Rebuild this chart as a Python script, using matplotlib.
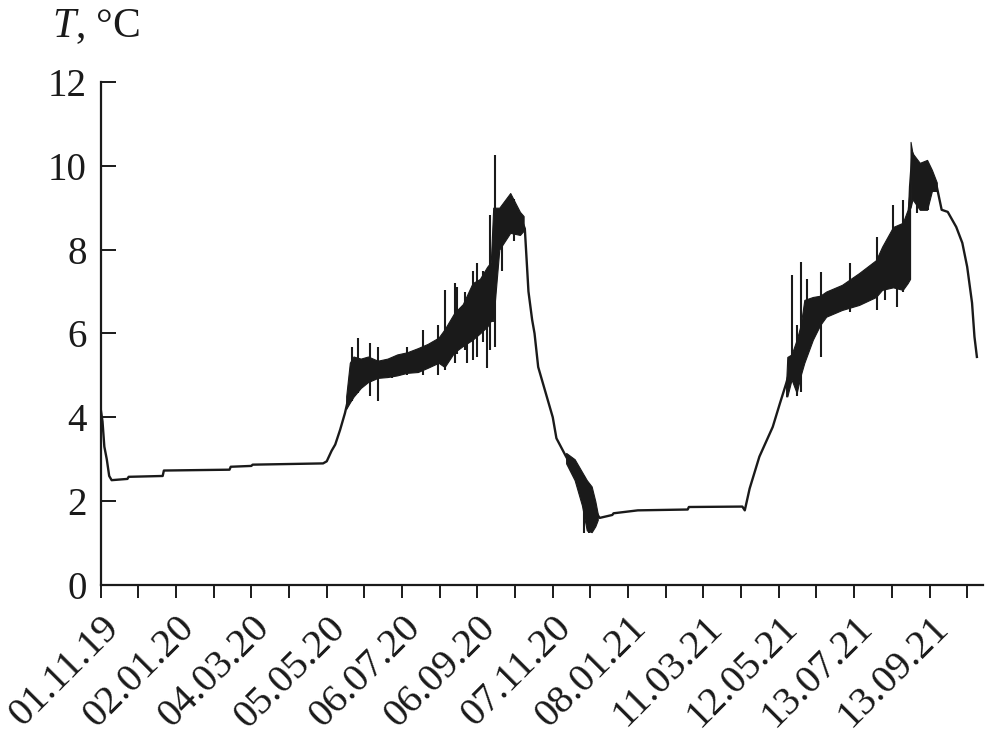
import matplotlib
matplotlib.use("Agg")
import matplotlib.pyplot as plt

plt.rcParams["font.family"] = ["Liberation Serif", "DejaVu Serif"]
plt.rcParams["mathtext.fontset"] = "custom"
plt.rcParams["mathtext.it"] = "Liberation Serif:italic"
plt.rcParams["mathtext.rm"] = "Liberation Serif"

# Days since 01.11.19 and temperature (°C), smooth part of the record
line_days = [0, 1.5, 3, 5, 7, 9, 22, 23, 51, 52, 106, 107, 124, 125, 183, 186,
             190, 193, 197, 201, 205, 211, 220, 228, 248, 261, 275, 283, 291,
             306, 318, 322, 324, 328, 337, 345, 349, 350.6, 352, 355, 357, 360,
             365, 372, 375, 383, 390, 400, 406, 410.6, 421, 422, 442, 483, 484,
             528, 530, 534, 542, 553, 559, 564, 568, 573, 579, 586, 592, 597,
             610, 624, 638, 643, 652, 660, 664, 666, 668, 674, 680, 684, 688,
             692, 697, 704, 709, 713, 717, 719, 721]
line_temp = [4.2, 3.9, 3.3, 3.0, 2.6, 2.5, 2.53, 2.58, 2.6, 2.73, 2.75, 2.82,
             2.84, 2.87, 2.9, 2.95, 3.2, 3.35, 3.7, 4.1, 4.6, 4.9, 5.15, 5.2,
             5.3, 5.4, 5.55, 5.65, 5.95, 6.4, 6.8, 7.0, 8.5, 8.8, 9.0, 8.8, 8.5,
             7.7, 7.0, 6.33, 6.0, 5.2, 4.7, 4.0, 3.5, 3.06, 2.7, 2.0, 1.8, 1.6,
             1.67, 1.71, 1.78, 1.8, 1.86, 1.87, 1.78, 2.3, 3.06, 3.77, 4.34, 4.8,
             5.2, 5.2, 6.0, 6.35, 6.4, 6.7, 6.85, 7.05, 7.3, 7.5, 7.8, 7.85, 8.0,
             9.5, 10.3, 9.6, 9.6, 9.74, 9.5, 8.95, 8.9, 8.54, 8.16, 7.59, 6.73,
             5.92, 5.44]

# Dense fluctuation bands: day, lower and upper envelope
band1_days = [202, 205, 208, 214, 220, 228, 236, 244, 252, 261, 269, 278, 283,
              291, 298, 306, 312, 318, 321, 323, 328, 337, 345, 348]
band1_lo = [4.2, 4.35, 4.49, 4.7, 4.84, 4.94, 4.96, 5.0, 5.06, 5.08, 5.18, 5.3,
            5.2, 5.55, 5.7, 5.85, 6.0, 6.16, 6.3, 6.3, 8.0, 8.4, 8.35, 8.45]
band1_hi = [4.5, 5.3, 5.45, 5.4, 5.45, 5.35, 5.4, 5.5, 5.55, 5.65, 5.75, 5.9,
            6.1, 6.49, 6.7, 7.2, 7.3, 7.59, 7.7, 9.0, 9.0, 9.35, 8.9, 8.8]

band2_days = [383, 390, 396, 400, 404, 407, 409]
band2_lo = [2.9, 2.5, 1.9, 1.3, 1.26, 1.4, 1.55]
band2_hi = [3.15, 3.0, 2.7, 2.5, 2.35, 2.0, 1.7]

band3_days = [564, 565, 568.5, 572.7, 576, 579, 586, 592, 597, 610, 624, 638,
              643, 652, 660, 664, 666]
band3_lo = [4.5, 4.5, 4.9, 4.58, 5.0, 5.3, 5.85, 6.2, 6.4, 6.56, 6.68, 6.87,
            7.04, 7.1, 7.04, 7.2, 7.3]
band3_hi = [4.8, 5.44, 5.5, 5.85, 6.2, 6.8, 6.87, 6.9, 7.0, 7.16, 7.44, 7.75,
            8.07, 8.54, 8.64, 8.95, 9.5]

band4_days = [666.4, 668, 674, 680, 684, 688]
band4_lo = [9.0, 9.2, 8.95, 8.95, 9.4, 9.4]
band4_hi = [10.57, 10.3, 10.07, 10.14, 9.9, 9.6]

# Isolated spikes: day, low, high
spike_days = [206.7, 211.6, 221.5, 228, 239.6, 251.9, 265, 277.4, 283.1, 291.4,
              293, 299.6, 301.2, 306.2, 309.5, 314.4, 317.7, 320.2, 324.3, 330,
              340, 398, 402, 568.5, 572.7, 576, 580.8, 592.4, 616.2, 638.5,
              645, 651.6, 655, 659.8, 672, 680.6]
spike_lo = [4.4, 4.58, 4.5, 4.4, 4.94, 5.0, 5.0, 5.0, 5.13, 5.3, 5.5, 5.6, 5.3,
            5.37, 5.44, 5.8, 5.18, 5.6, 5.68, 7.5, 8.2, 1.25, 1.25, 4.9, 4.5,
            4.6, 5.5, 5.44, 6.5, 6.56, 6.8, 7.1, 6.63, 7.0, 8.87, 8.95]
spike_hi = [5.68, 5.9, 5.77, 5.68, 5.4, 5.68, 6.08, 6.2, 7.04, 7.2, 7.1, 7.0,
            6.5, 7.5, 7.68, 7.5, 6.9, 8.83, 10.26, 8.8, 9.2, 2.6, 2.4, 7.4,
            6.2, 7.7, 7.3, 7.47, 7.68, 8.3, 7.5, 9.07, 8.2, 9.19, 9.8, 9.8]

# Ticks every 31 days, labels every 62 days
tick_days = list(range(0, 714, 31))
tick_labels = ["01.11.19", "02.01.20", "04.03.20", "05.05.20", "06.07.20",
               "06.09.20", "07.11.20", "08.01.21", "11.03.21", "12.05.21",
               "13.07.21", "13.09.21"]

fig = plt.figure(figsize=(9.92, 7.49), dpi=100)
ax = fig.add_axes([0.1015, 0.219, 0.8894, 0.6716])

ax.plot(line_days, line_temp, color="#1a1a1a", lw=1.7)
for d, lo, hi in [(band1_days, band1_lo, band1_hi), (band2_days, band2_lo, band2_hi),
                  (band3_days, band3_lo, band3_hi), (band4_days, band4_lo, band4_hi)]:
    ax.fill_between(d, lo, hi, color="#1a1a1a", lw=0.8, edgecolor="#1a1a1a")
ax.vlines(spike_days, spike_lo, spike_hi, color="#1a1a1a", lw=1.5)

ax.set_xlim(0, 726)
ax.set_ylim(0, 12)
ax.set_yticks(range(0, 13, 2))
ax.set_xticks(tick_days)
labels = []
for i in range(len(tick_days)):
    labels.append(tick_labels[i // 2] if i % 2 == 0 else "")
ax.set_xticklabels(labels, rotation=45, ha="right", va="top",
                   rotation_mode="anchor")

for s in ["top", "right"]:
    ax.spines[s].set_visible(False)
for s in ["left", "bottom"]:
    ax.spines[s].set_linewidth(1.6)
    ax.spines[s].set_color("#1a1a1a")

ax.tick_params(axis="y", direction="in", length=11, width=1.4, labelsize=28,
               pad=10, colors="#1a1a1a")
ax.tick_params(axis="x", direction="out", length=9.5, width=1.4, labelsize=29,
               pad=8, colors="#1a1a1a")

fig.text(52 / 992, 1 - 37 / 749, r"$T$, °C", fontsize=30, color="#1a1a1a",
         va="baseline", ha="left")

fig.savefig("out.png", dpi=100)
